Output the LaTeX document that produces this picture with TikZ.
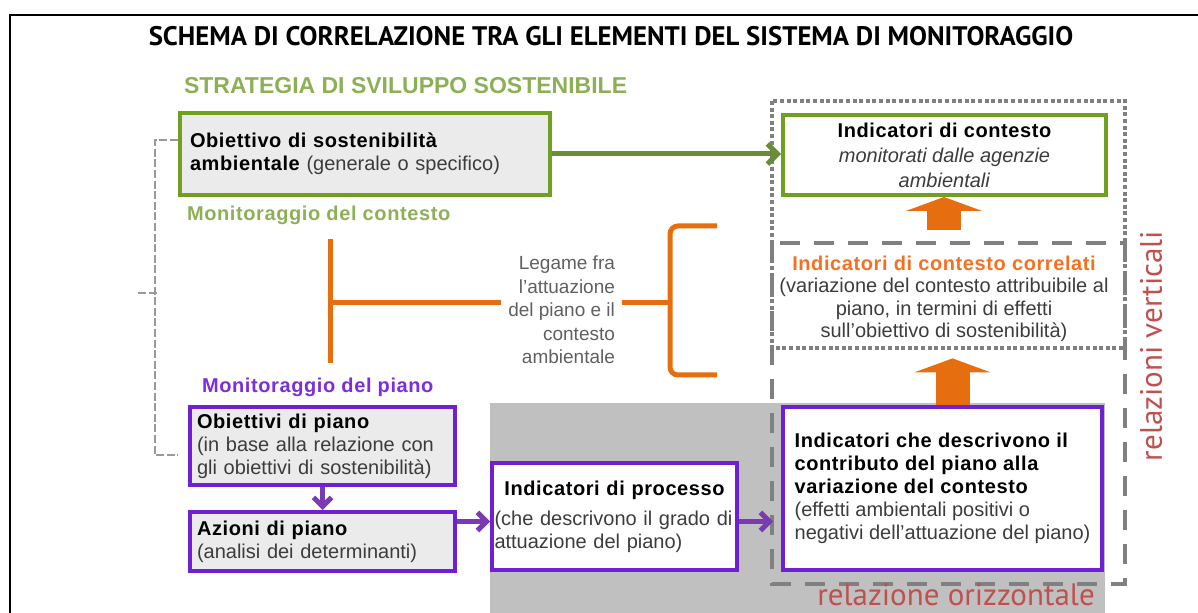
\documentclass[tikz,border=0pt]{standalone}
\usepackage{fontspec}
\setmainfont{Liberation Sans}
\newfontfamily\titlefont{PT Sans}
\newfontfamily\spfont[LetterSpace=3]{Liberation Sans}
\usetikzlibrary{arrows.meta}

\definecolor{boxgreen}{RGB}{112,160,32}
\definecolor{arrgreen}{RGB}{106,140,58}
\definecolor{labgreen}{RGB}{141,176,86}
\definecolor{boxpurple}{RGB}{112,32,210}
\definecolor{labpurple}{RGB}{124,44,226}
\definecolor{arrpurple}{RGB}{122,58,178}
\definecolor{orng}{RGB}{230,110,14}
\definecolor{orngtxt}{RGB}{246,112,34}
\definecolor{redlab}{RGB}{192,80,77}
\definecolor{boxfill}{RGB}{235,235,235}
\definecolor{greyzone}{RGB}{192,192,192}
\definecolor{greyline}{RGB}{128,128,128}
\definecolor{txtgrey}{RGB}{60,60,60}

\newcommand{\bt}[1]{{\spfont\bfseries\color{black}#1}}

\begin{document}
\begin{tikzpicture}[x=0.5pt,y=-0.5pt,font=\fontsize{10}{11.5}\selectfont,text=txtgrey,
    gbox/.style={draw=boxgreen,line width=2pt},
    pbox/.style={draw=boxpurple,line width=2pt},
    garrow/.style={draw=arrgreen,line width=2.5pt,-{Straight Barb[length=5pt,width=10pt]}},
    parrow/.style={draw=arrpurple,line width=2.5pt,-{Straight Barb[length=4.5pt,width=9pt]}},
    bigarrow/.style={draw=orng,line width=17pt,-{Triangle[length=7pt,width=38pt]}},
    orline/.style={draw=orng,line width=2.5pt},
    brace/.style={draw=greyline!80,line width=1.2pt,dash pattern=on 4pt off 1.3pt},
    redlabel/.style={text=redlab,font=\titlefont\fontsize{15.5}{17}\selectfont}]
\useasboundingbox (0,0) rectangle (1198,613);
\draw[line width=1.2pt] (10,650) |- (1250,15);
\fill[greyzone] (490,403) rectangle (1105,613);
\draw[greyline,line width=1.8pt,dash pattern=on 2pt off 1.3pt] (772,101) rectangle (1125,348);
\draw[greyline,line width=2.2pt,dash pattern=on 10pt off 7pt] (772,243) rectangle (1125,584);

\node[text=black,font=\titlefont\bfseries\fontsize{13.4}{15}\selectfont] (T) at (611,36)
    {SCHEMA DI CORRELAZIONE TRA GLI ELEMENTI DEL SISTEMA DI MONITORAGGIO};
\node[anchor=west,text=labgreen,font=\bfseries\fontsize{11.5}{13}\selectfont] (S) at (177,86)
    {STRATEGIA DI SVILUPPO SOSTENIBILE};

\begin{scope}[every node/.style={gbox}]
    \node[fill=boxfill,text width=175pt,inner xsep=5pt,minimum height=41pt] (O) at (365,154)
        {\bt{Obiettivo di sostenibilità}\\\bt{ambientale} (generale o specifico)};
    \node[fill=white,minimum width=161.5pt,minimum height=40pt,align=center,font=\fontsize{10}{12.5}\selectfont] (C) at (944.5,155)
        {\bt{Indicatori di contesto}\\\textit{monitorati dalle agenzie}\\\textit{ambientali}};
\end{scope}

\node[anchor=west,text=labgreen,font=\spfont\bfseries] (MC) at (180,215) {Monitoraggio del contesto};
\node[anchor=west,text=labpurple,font=\spfont\bfseries] (MP) at (195,387) {Monitoraggio del piano};

\node[minimum height=69pt,align=center,inner sep=0pt,font=\fontsize{10}{11.2}\selectfont] (R) at (944,299)
    {{\spfont\bfseries\color{orngtxt}Indicatori di contesto correlati}\\(variazione del contesto attribuibile al\\piano, in termini di effetti\\sull'obiettivo di sostenibilità)};

\node[anchor=east,align=right,text=gray!75!black,font=\fontsize{9.5}{11.75}\selectfont] (L) at (622,310)
    {Legame fra\\l'attuazione\\del piano e il\\contesto\\ambientale};

\begin{scope}[every node/.style={pbox}]
    \node[fill=boxfill,text width=125.5pt,inner xsep=3.5pt,minimum height=39pt] (P) at (322.5,446)
        {\bt{Obiettivi di piano}\\(in base alla relazione con\\gli obiettivi di sostenibilità)};
    \node[fill=boxfill,text width=125.5pt,inner xsep=3.5pt,minimum height=29.5pt] (A) at (322.5,541.5)
        {\bt{Azioni di piano}\\(analisi dei determinanti)};
    \node[fill=white,text width=120pt,inner xsep=1.25pt,minimum height=53.5pt] (Q) at (614.5,516.5)
        {\centering\bt{Indicatori di processo}\par\vspace{3.5pt}\raggedright(che descrivono il grado di\\attuazione del piano)};
    \node[fill=white,align=left,minimum width=159.5pt,minimum height=81.5pt] (D) at (942.5,488.5)
        {\bt{Indicatori che descrivono il}\\\bt{contributo del piano alla}\\\bt{variazione del contesto}\\(effetti ambientali positivi o\\negativi dell'attuazione del piano)};
\end{scope}

\coordinate (t) at (330,303);
\coordinate (b) at (670,303);
\coordinate (k) at (157,293);
\draw[orline,shorten <=4pt,shorten >=4pt] (t |- MC.south) -- (t |- MP.north);
\draw[orline] (t) -- (t -| L.west);
\draw[orline] (b -| L.east) -- (b);
\draw[orline,rounded corners=4pt] (717,226) -- (670,226) -- (670,375) -- (717,375);

\draw[brace] ([yshift=7pt]O.west) -- ++(-11.5pt,0) |- ([yshift=-4.5pt,xshift=-5pt]P.west);
\draw[brace] (k) -- ++(-10pt,0);

\draw[bigarrow] (R.north) -- (R.north |- C.south);
\draw[bigarrow,shorten >=-5pt] ([xshift=5pt]D.north) -- ([xshift=5pt]D.north |- R.south);

\draw[garrow] (O.east) -- (O.east -| C.west);
\draw[parrow] (P) -- (A);
\draw[parrow] ([yshift=-2.5pt]Q.west -| A.east) -- ([yshift=-2.5pt]Q.west);
\draw[parrow,shorten >=4pt] ([yshift=-2.5pt]Q.east) -- ([yshift=-2.5pt]Q.east -| D.west);

\node[redlabel,rotate=90] (V) at (1151,346) {relazioni verticali};
\node[redlabel] (H) at (956,595) {relazione orizzontale};
\end{tikzpicture}
\end{document}
